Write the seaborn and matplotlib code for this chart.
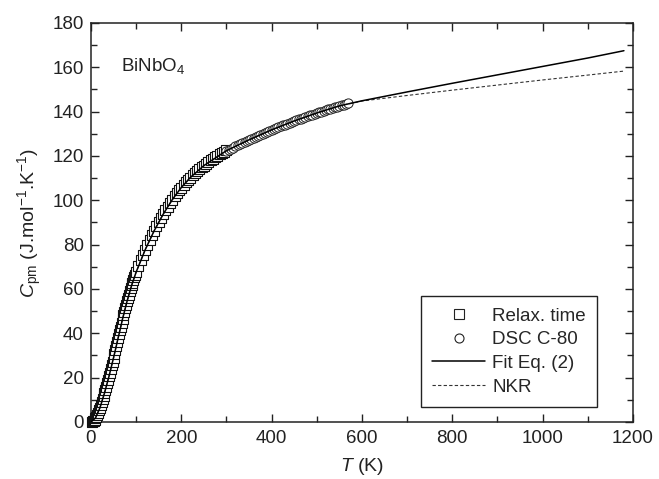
"""
Heat capacity of BiNbO4: relaxation time + DSC data, fit and NKR estimate.
"""

import pandas as pd
import matplotlib
matplotlib.use("Agg")
import matplotlib.pyplot as plt
import seaborn as sns
from matplotlib.ticker import MultipleLocator
from matplotlib.lines import Line2D

# --- data ---------------------------------------------------------------
relax_T = [2, 4, 6, 8, 10, 12, 14, 16, 18, 20, 22, 24, 26, 28, 30, 32, 34, 36,
           38, 40, 42, 44, 46, 48, 50, 52, 54, 56, 58, 60, 62, 64, 66, 68, 70,
           72, 74, 76, 78, 80, 82, 84, 86, 88, 90, 92, 94, 96, 98, 100,
           105, 110, 115, 120, 125, 130, 135, 140, 145, 150, 155, 160, 165,
           170, 175, 180, 185, 190, 195, 200, 205, 210, 215, 220, 225, 230,
           235, 240, 245, 250, 255, 260, 265, 270, 275, 280, 285, 290, 295, 300]
relax_Cp = [0.05, 0.25, 0.6, 1.1, 1.8, 2.44, 3.24, 4.2, 5.26, 6.42, 7.67, 8.94,
            10.26, 11.63, 13.05, 14.5, 16.0, 17.5, 19.06, 20.64, 22.25, 23.89,
            25.55, 27.23, 28.94, 30.67, 32.41, 34.17, 35.95, 37.74, 39.53,
            41.3, 43.05, 44.78, 46.49, 48.17, 49.82, 51.43, 53.0, 54.54, 56.04,
            57.49, 58.9, 60.27, 61.59, 62.87, 64.11, 65.31, 66.47, 67.59,
            70.28, 72.86, 75.33, 77.68, 79.94, 82.13, 84.24, 86.28, 88.25,
            90.16, 92.0, 93.78, 95.5, 97.16, 98.75, 100.28, 101.75, 103.16,
            104.5, 105.78, 107.0, 108.16, 109.25, 110.28, 111.26, 112.2, 113.11,
            113.98, 114.83, 115.65, 116.46, 117.24, 117.99, 118.71, 119.42,
            120.1, 120.74, 121.36, 121.96, 122.55]

dsc_T = [300, 305, 310, 315, 320, 325, 330, 335, 340, 345, 350, 355, 360, 365,
         370, 375, 380, 385, 390, 395, 400, 405, 410, 415, 420, 425, 430, 435,
         440, 445, 450, 455, 460, 465, 470, 475, 480, 485, 490, 495, 500, 505,
         510, 515, 520, 525, 530, 535, 540, 545, 550, 555, 560, 565, 570]
dsc_Cp = [122.3, 122.8, 123.3, 123.8, 124.3, 124.8, 125.3, 125.8, 126.3, 126.8,
          127.3, 127.75, 128.2, 128.65, 129.1, 129.55, 130.0, 130.45, 130.9,
          131.35, 131.8, 132.2, 132.6, 133.0, 133.4, 133.8, 134.2, 134.6, 135.0,
          135.4, 135.8, 136.15, 136.5, 136.9, 137.25, 137.6, 137.95, 138.3,
          138.7, 139.05, 139.4, 139.7, 140.05, 140.35, 140.7, 141.0, 141.3,
          141.65, 141.95, 142.3, 142.6, 142.9, 143.2, 143.5, 143.8]

fit_T = [0, 10, 20, 30, 40, 50, 60, 70, 80, 90, 100, 120, 140, 160, 180, 200,
         220, 250, 300, 350, 400, 450, 500, 550, 600, 700, 800, 900, 1000,
         1100, 1180]
fit_Cp = [0, 1.8, 6.45, 13.05, 20.64, 28.94, 37.74, 46.49, 54.54, 61.59, 67.59,
          77.68, 86.28, 93.78, 100.28, 105.78, 110.28, 115.65, 122.4, 127.3,
          131.8, 135.8, 139.4, 142.6, 144.9, 148.9, 152.8, 156.6, 160.4, 164.2,
          167.5]

nkr_T = fit_T
nkr_Cp = [0, 1.8, 6.45, 13.05, 20.64, 28.94, 37.74, 46.49, 54.54, 61.59, 67.59,
          77.68, 86.28, 93.78, 100.28, 105.78, 110.28, 115.65, 122.4, 127.3,
          131.8, 135.8, 139.4, 142.6, 144.8, 147.3, 149.7, 152.0, 154.3, 156.5,
          158.3]

legend_labels = ['Relax. time', 'DSC C-80', 'Fit Eq. (2)', 'NKR']

# --- style ----------------------------------------------------------------
sns.set_style("ticks")
plt.rcParams['font.family'] = ['Liberation Sans', 'DejaVu Sans']
plt.rcParams['mathtext.fontset'] = 'custom'
plt.rcParams['mathtext.rm'] = 'Liberation Sans'
plt.rcParams['mathtext.it'] = 'Liberation Sans:italic'

ink = '#222222'
fig = plt.figure(figsize=(6.59, 4.79), dpi=100)
ax = fig.add_axes([0.138, 0.119, 0.8225, 0.833])

relax = pd.DataFrame({'T': relax_T, 'Cp': relax_Cp})
dsc = pd.DataFrame({'T': dsc_T, 'Cp': dsc_Cp})
fit = pd.DataFrame({'T': fit_T, 'Cp': fit_Cp})
nkr = pd.DataFrame({'T': nkr_T, 'Cp': nkr_Cp})

sns.scatterplot(data=relax, x='T', y='Cp', ax=ax, marker='s', s=42,
                facecolor='white', edgecolor='#111111', linewidth=0.8,
                clip_on=False, zorder=3)
sns.scatterplot(data=dsc, x='T', y='Cp', ax=ax, marker='o', s=44,
                facecolor='white', edgecolor='#222222', linewidth=0.7,
                zorder=3)
sns.lineplot(data=nkr, x='T', y='Cp', ax=ax, color='#333333', lw=0.8,
             linestyle=(0, (3, 2)), zorder=4)
sns.lineplot(data=fit, x='T', y='Cp', ax=ax, color='black', lw=1.1, zorder=5)

ax.set_xlim(0, 1200)
ax.set_ylim(0, 180)
ax.xaxis.set_major_locator(MultipleLocator(200))
ax.xaxis.set_minor_locator(MultipleLocator(100))
ax.yaxis.set_major_locator(MultipleLocator(20))
ax.yaxis.set_minor_locator(MultipleLocator(10))
ax.tick_params(which='both', direction='in', top=True, right=True,
               labelsize=13.5, color=ink, labelcolor=ink)
ax.tick_params(which='major', length=6, width=1)
ax.tick_params(which='minor', length=4, width=1)
ax.tick_params(axis='x', pad=6)
ax.tick_params(axis='y', pad=5)
for sp in ax.spines.values():
    sp.set_linewidth(1.1)
    sp.set_color(ink)

ax.set_xlabel(r'$T$ (K)', fontsize=14, color=ink, labelpad=6)
ax.set_ylabel(r'$C_{\rm pm}$ (J.mol$^{-1}$.K$^{-1}$)', fontsize=14,
              color=ink, labelpad=6)
ax.text(0.055, 0.88, r'BiNbO$_4$', transform=ax.transAxes, fontsize=13.5,
        color=ink)

handles = [
    Line2D([], [], marker='s', ls='none', mfc='white', mec=ink,
           ms=6.5, mew=0.8),
    Line2D([], [], marker='o', ls='none', mfc='white', mec=ink,
           ms=6.5, mew=0.8),
    Line2D([], [], color='black', lw=1.1),
    Line2D([], [], color='#333333', lw=0.8, ls=(0, (3, 2))),
]
leg = ax.legend(handles, legend_labels, loc='lower right',
                bbox_to_anchor=(0.934, 0.038), borderaxespad=0,
                fontsize=13.5, frameon=True, fancybox=False, edgecolor=ink,
                framealpha=1, handlelength=2.8, handletextpad=0.4,
                labelspacing=0.35, borderpad=0.6)
leg.get_frame().set_linewidth(1.0)

fig.savefig('out.png', dpi=100)
